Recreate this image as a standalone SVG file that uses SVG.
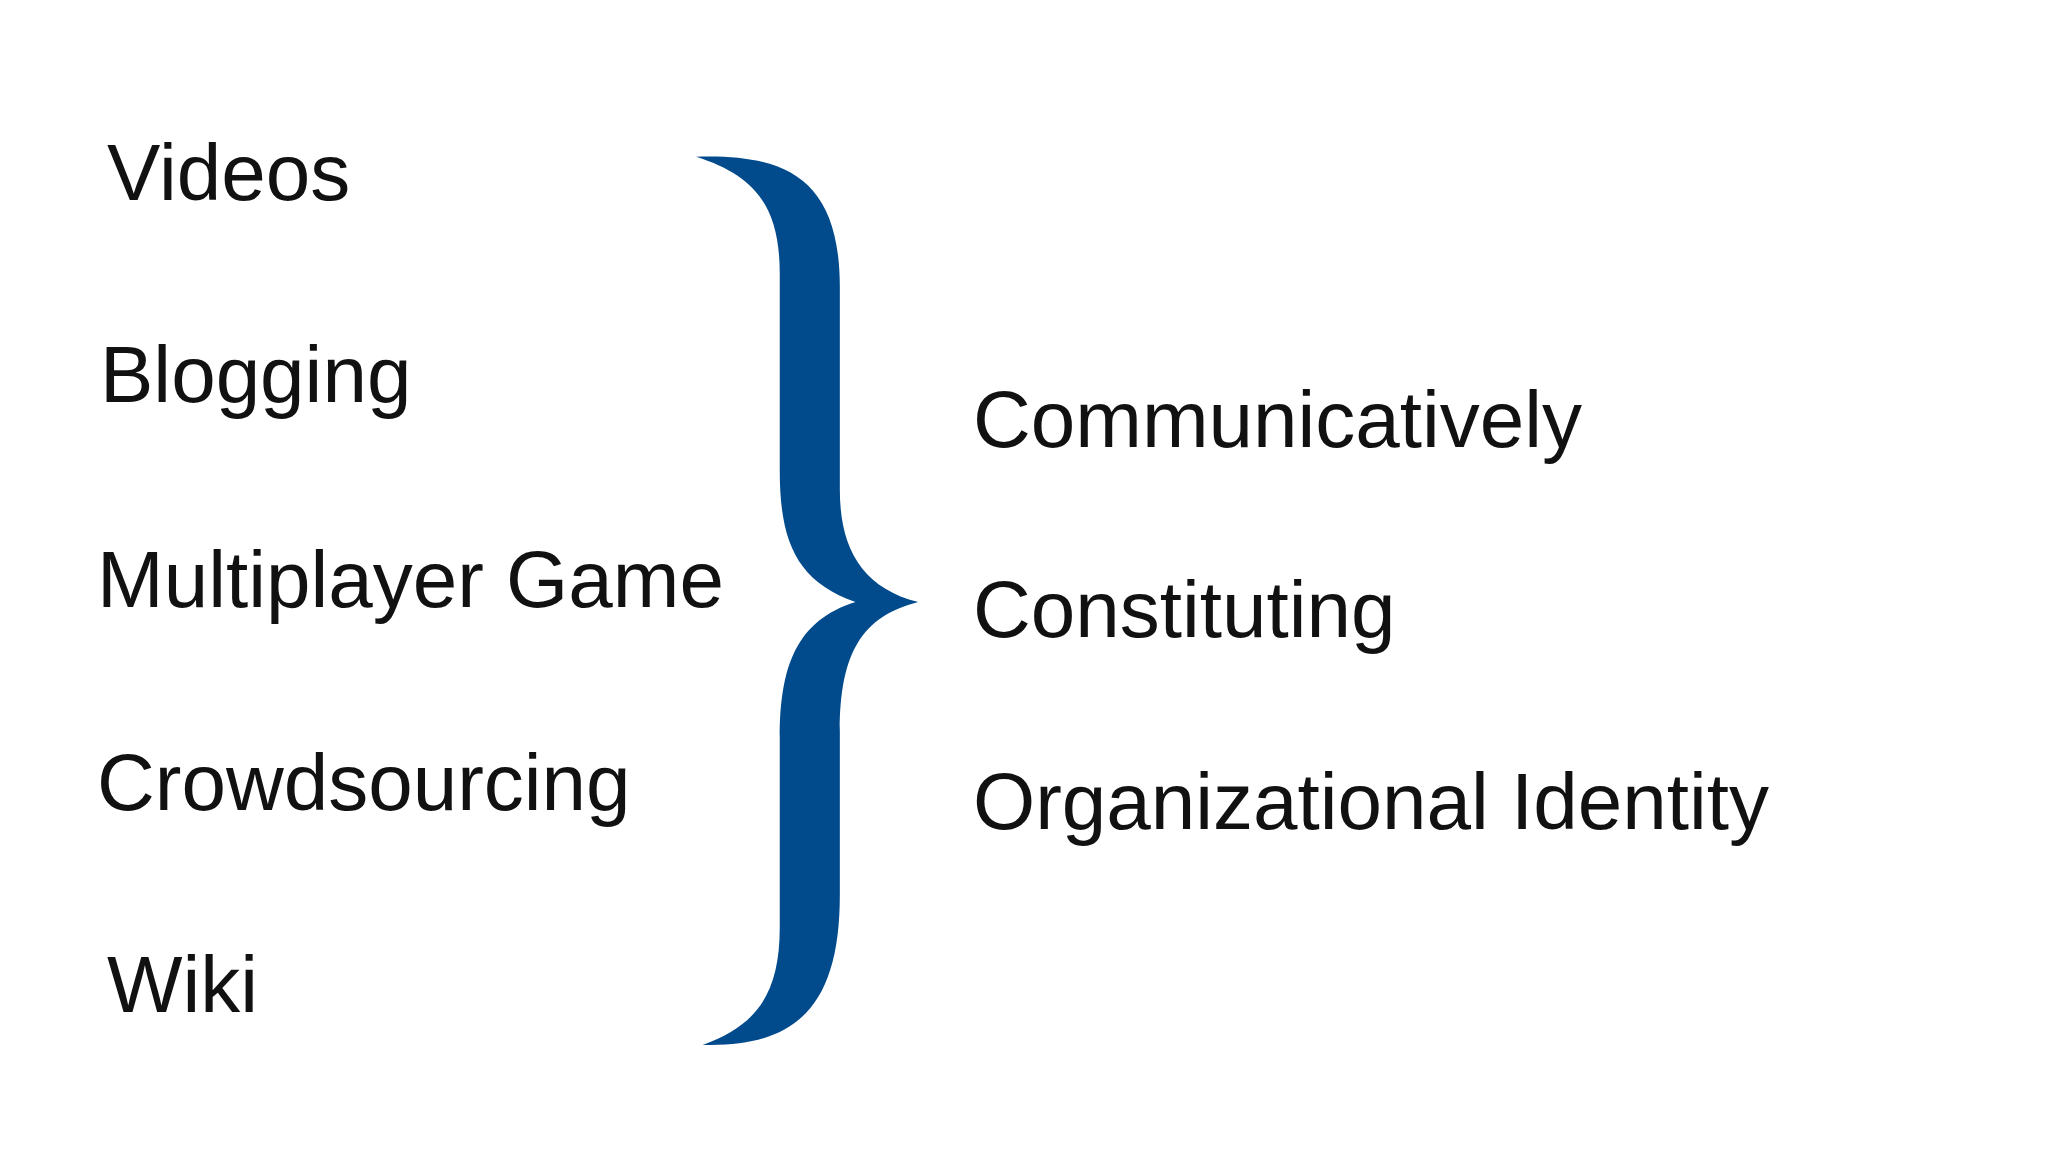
<svg xmlns="http://www.w3.org/2000/svg" width="2048" height="1152" viewBox="0 0 2048 1152">
<style>
text{font-family:"Liberation Sans",Arial,sans-serif;font-size:80px;fill:#111}
</style>
<rect width="2048" height="1152" fill="#ffffff"/>
<g id="left">
<text x="107" y="200">Videos</text>
<text x="100" y="402">Blogging</text>
<text x="97" y="607">Multiplayer Game</text>
<text x="97" y="810">Crowdsourcing</text>
<text x="107" y="1012">Wiki</text>
</g>
<g id="connectors">
<path transform="scale(1.30612)" fill="#014a8c" d="M533,120 C600,118 643,135 643,220 L643,375 C643,420 660,450 703,461 C660,472 643,500 643,560 L643,685 C643,770 610,802 538,800 C580,785 597,760 597,710 L597,565 C597,510 610,475 655,461 C610,445 597,415 597,360 L597,210 C597,160 580,135 533,120 Z"/>
</g>
<g id="right">
<text x="973" y="447">Communicatively</text>
<text x="973" y="637">Constituting</text>
<text x="973" y="829">Organizational Identity</text>
</g>
</svg>
